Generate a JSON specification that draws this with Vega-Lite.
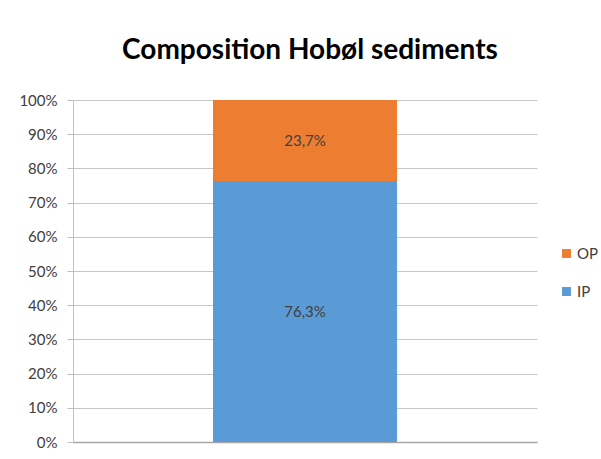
{
  "$schema": "https://vega.github.io/schema/vega-lite/v6.json",
  "autosize": "none",
  "width": 464,
  "height": 342,
  "padding": {"left": 73, "top": 100, "right": 64, "bottom": 17},
  "background": "white",
  "config": {
    "locale": {
      "number": {"decimal": ",", "thousands": " ", "grouping": [3], "currency": ["", " kr"]}
    },
    "font": "Lato",
    "view": {"stroke": null},
    "axisY": {
      "title": null,
      "format": ".0%",
      "tickCount": 10,
      "labelOverlap": false,
      "labelFontSize": 15,
      "labelColor": "#404040",
      "labelPadding": 10,
      "tickSize": 6,
      "tickColor": "#c0c0c0",
      "domainColor": "#c0c0c0",
      "gridColor": "#c6c6c6",
      "grid": true
    }
  },
  "title": {
    "text": "Composition Hobøl sediments",
    "font": "Lato",
    "fontSize": 28,
    "fontWeight": "bold",
    "color": "#000000",
    "anchor": "middle",
    "offset": 28,
    "dx": 5
  },
  "data": {
    "values": [
      {"sample": "Hobøl", "component": "IP", "share": 0.763},
      {"sample": "Hobøl", "component": "OP", "share": 0.237}
    ]
  },
  "transform": [
    {"stack": "share", "groupby": ["sample"], "sort": [{"field": "component", "order": "ascending"}], "as": ["s0", "s1"]},
    {"calculate": "(datum.s0 + datum.s1) / 2", "as": "mid"}
  ],
  "encoding": {
    "x": {
      "field": "sample",
      "type": "nominal",
      "scale": {"paddingInner": 0, "paddingOuter": 0.761},
      "axis": {
        "title": null,
        "labels": false,
        "ticks": false,
        "domainColor": "#a6a6a6",
        "domainWidth": 1.5
      }
    }
  },
  "layer": [
    {
      "mark": {"type": "bar"},
      "encoding": {
        "y": {
          "field": "s0",
          "type": "quantitative",
          "scale": {"domain": [0, 1], "nice": false},
          "axis": {"tickCount": 10, "labelOverlap": false}
        },
        "y2": {"field": "s1"},
        "color": {
          "field": "component",
          "type": "nominal",
          "scale": {"domain": ["OP", "IP"], "range": ["#ED7D31", "#5B9BD5"]},
          "legend": {
            "title": null,
            "orient": "none",
            "legendX": 486,
            "legendY": 146,
            "symbolType": "square",
            "symbolSize": 80,
            "symbolStrokeWidth": 0,
            "labelFontSize": 15,
            "labelColor": "#404040",
            "labelOffset": 3,
            "rowPadding": 22
          }
        }
      }
    },
    {
      "mark": {"type": "text", "fontSize": 15, "color": "#404040", "baseline": "middle", "align": "center"},
      "encoding": {
        "y": {
          "field": "mid",
          "type": "quantitative",
          "axis": {"tickCount": 10, "labelOverlap": false}
        },
        "text": {"field": "share", "type": "quantitative", "format": ".1%"}
      }
    }
  ]
}
